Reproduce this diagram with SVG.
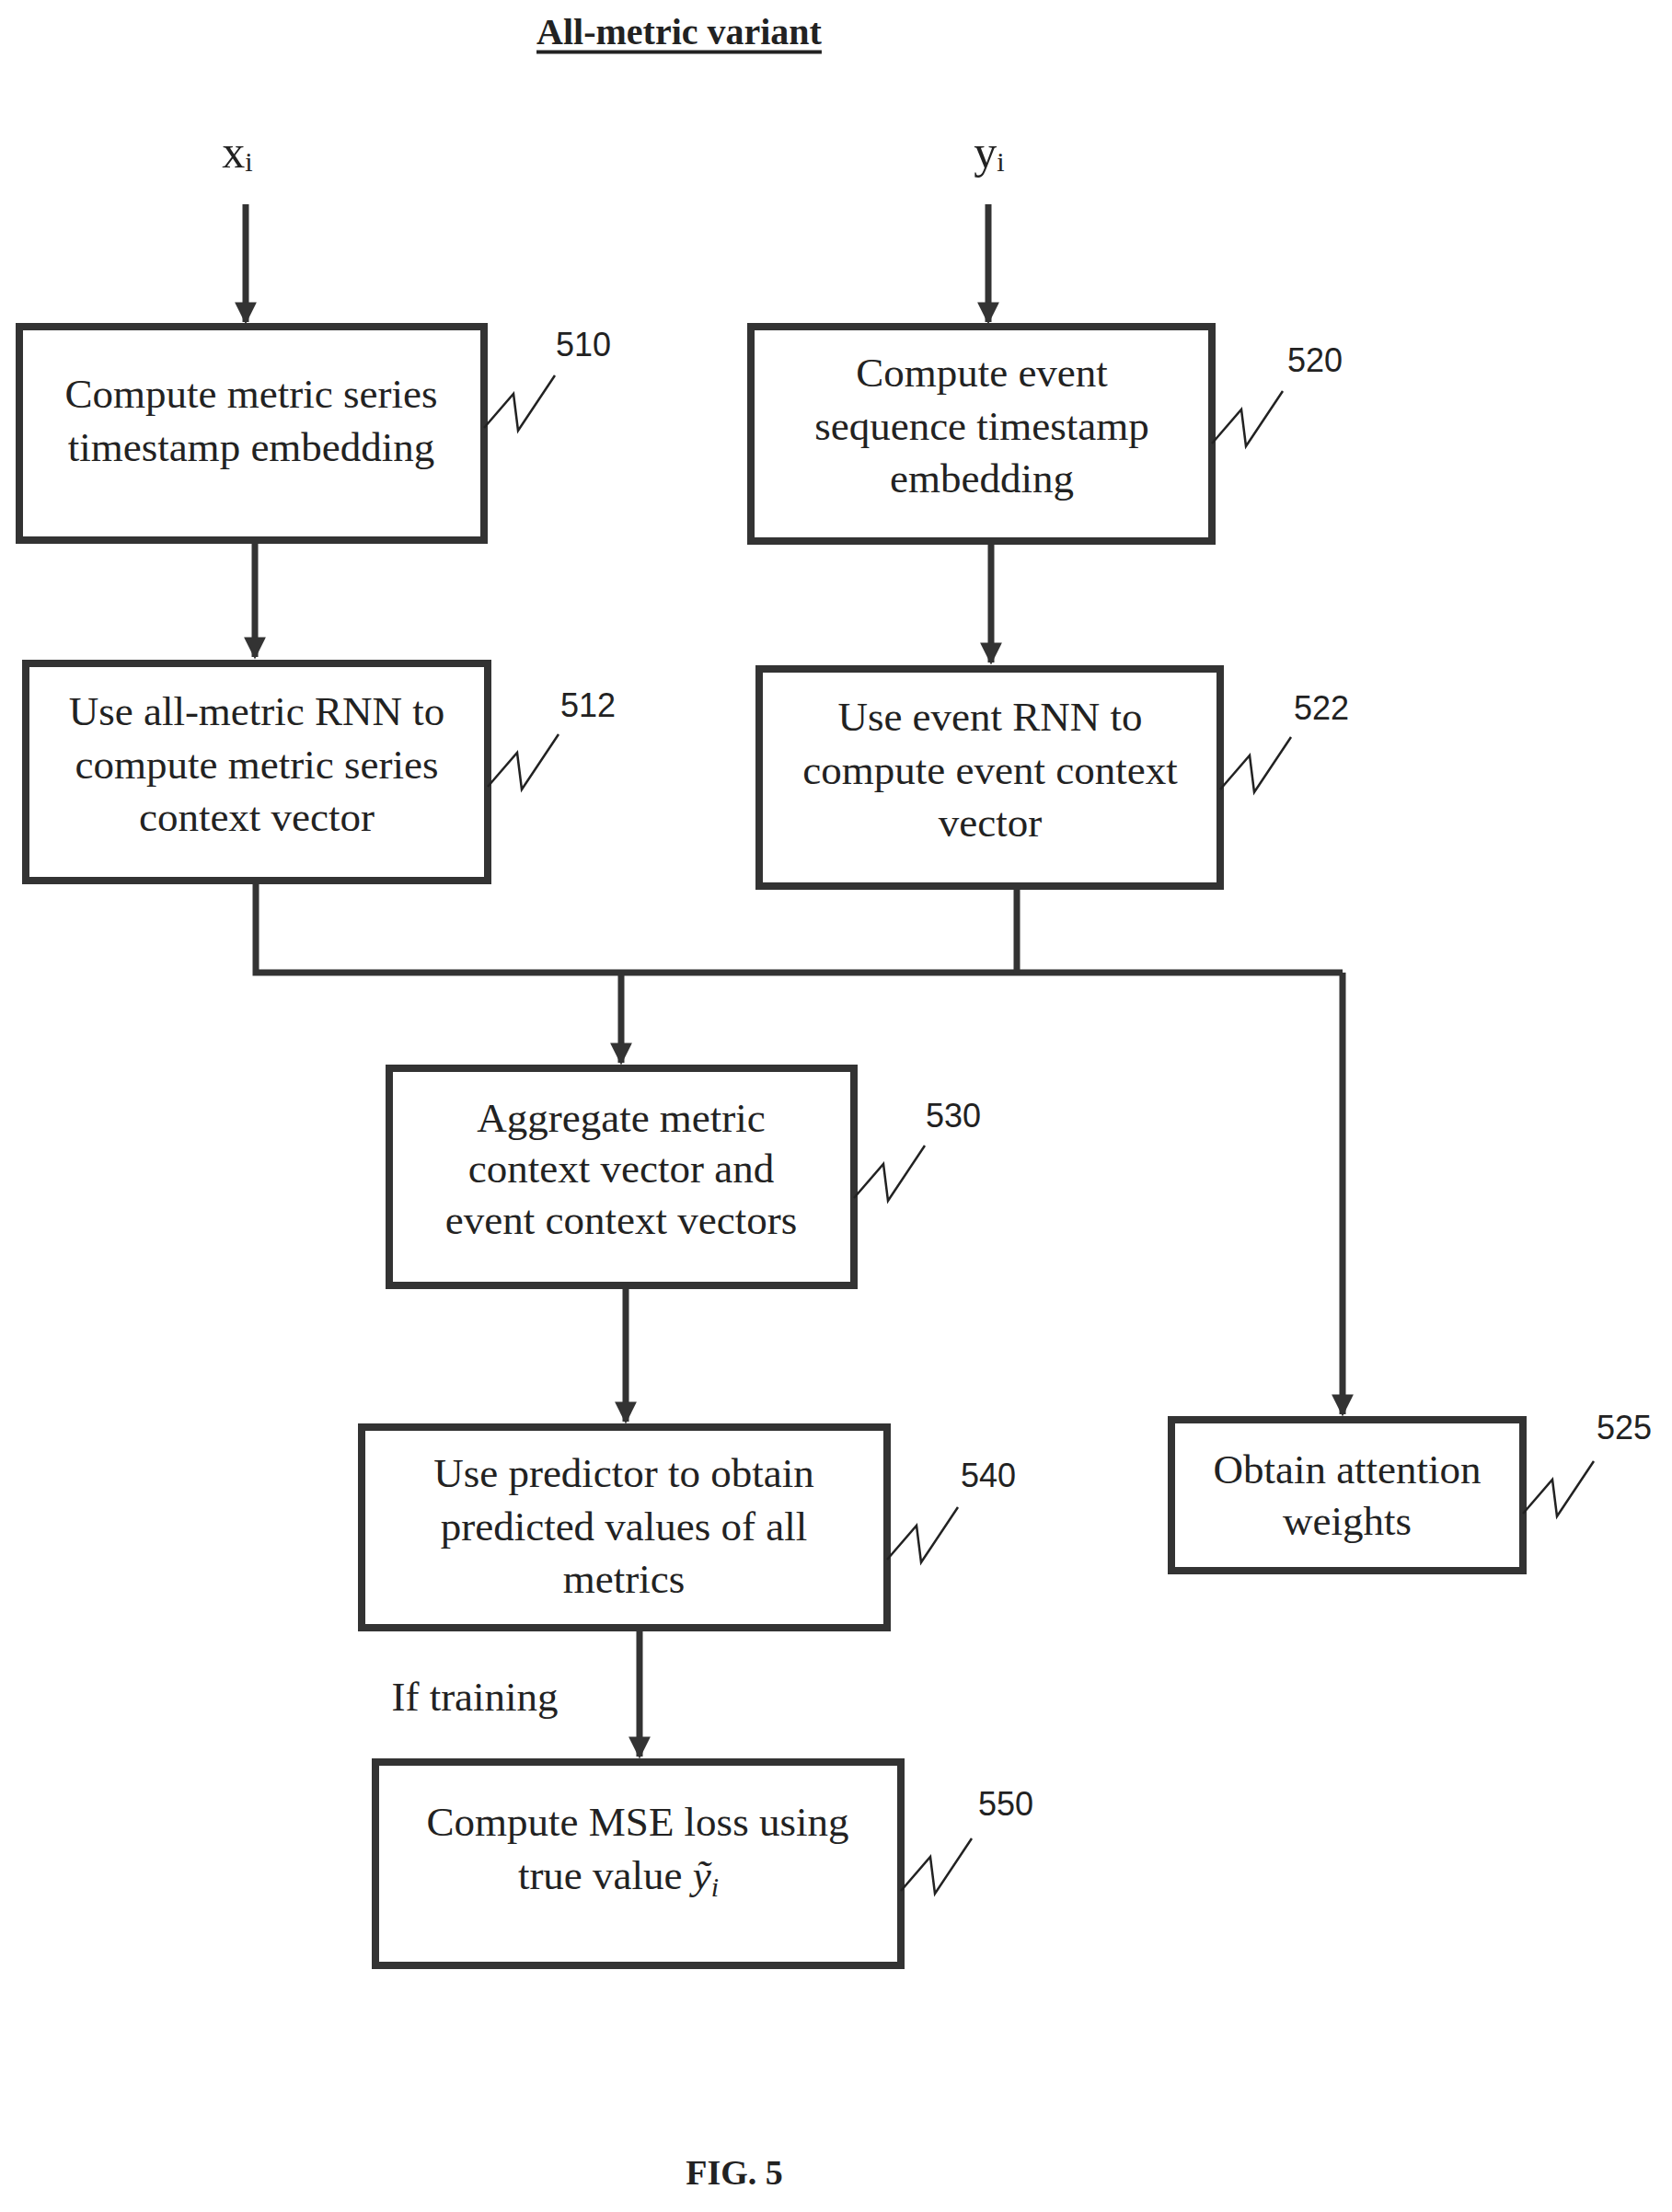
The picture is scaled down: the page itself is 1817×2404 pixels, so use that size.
<svg xmlns="http://www.w3.org/2000/svg" width="1817" height="2404" viewBox="0 0 1817 2404">
<defs>
<marker id="ah" viewBox="0 0 10 10" refX="9" refY="5" markerWidth="3.8" markerHeight="3.4" orient="auto" markerUnits="strokeWidth"><path d="M0,0 L10,5 L0,10 Z" fill="#333"/></marker>
</defs>
<style>
.box{fill:#fff;stroke:#333;stroke-width:8}
.t{font-family:"Liberation Serif",serif;font-size:45px;fill:#222;text-anchor:middle;dominant-baseline:central}
.n{font-family:"Liberation Sans",sans-serif;font-size:36px;fill:#222;text-anchor:middle;dominant-baseline:central}
.c{fill:none;stroke:#333;stroke-width:7}
.sq{fill:none;stroke:#222;stroke-width:2.5}
</style>
<rect width="1817" height="2404" fill="#fff"/>
<text x="738" y="34" style="font-family:'Liberation Serif',serif;font-size:40px;font-weight:bold;text-anchor:middle;dominant-baseline:central;text-decoration:underline" fill="#222">All-metric variant</text>
<text x="258" y="165" class="t" style="font-size:50px">x<tspan font-size="30" dy="10">i</tspan></text>
<text x="1075" y="165" class="t" style="font-size:50px">y<tspan font-size="30" dy="10">i</tspan></text>
<g id="connectors">
<line class="c" x1="267" y1="222" x2="267" y2="350" marker-end="url(#ah)"/>
<line class="c" x1="1074" y1="222" x2="1074" y2="350" marker-end="url(#ah)"/>
<line class="c" x1="277" y1="588" x2="277" y2="714" marker-end="url(#ah)"/>
<line class="c" x1="1077" y1="590" x2="1077" y2="720" marker-end="url(#ah)"/>
<polyline class="c" points="278,957 278,1057 1459,1057"/>
<line class="c" x1="1105" y1="963" x2="1105" y2="1057"/>
<line class="c" x1="675" y1="1057" x2="675" y2="1155" marker-end="url(#ah)"/>
<line class="c" x1="1459" y1="1057" x2="1459" y2="1537" marker-end="url(#ah)"/>
<line class="c" x1="680" y1="1397" x2="680" y2="1545" marker-end="url(#ah)"/>
<line class="c" x1="695" y1="1769" x2="695" y2="1909" marker-end="url(#ah)"/>
</g>
<g id="n510"><rect class="box" x="21" y="355" width="505" height="232"/><text class="t" x="273" y="428">Compute metric series</text><text class="t" x="273" y="486">timestamp embedding</text><text class="n" x="634" y="374">510</text><path class="sq" d="M526,465 L558,428 L563,468 L603,408"/></g>
<g id="n520"><rect class="box" x="816" y="355" width="501" height="233"/><text class="t" x="1067" y="405">Compute event</text><text class="t" x="1067" y="463">sequence timestamp</text><text class="t" x="1067" y="520">embedding</text><text class="n" x="1429" y="391">520</text><path class="sq" d="M1317,482 L1349,445 L1354,485 L1394,425"/></g>
<g id="n512"><rect class="box" x="28" y="721" width="502" height="236"/><text class="t" x="279" y="773">Use all-metric RNN to</text><text class="t" x="279" y="831">compute metric series</text><text class="t" x="279" y="888">context vector</text><text class="n" x="639" y="766">512</text><path class="sq" d="M530,855 L562,818 L567,858 L607,798"/></g>
<g id="n522"><rect class="box" x="825" y="727" width="501" height="236"/><text class="t" x="1076" y="779">Use event RNN to</text><text class="t" x="1076" y="837">compute event context</text><text class="t" x="1076" y="894">vector</text><text class="n" x="1436" y="769">522</text><path class="sq" d="M1326,858 L1358,821 L1363,861 L1403,801"/></g>
<g id="n530"><rect class="box" x="423" y="1161" width="505" height="236"/><text class="t" x="675" y="1215">Aggregate metric</text><text class="t" x="675" y="1270">context vector and</text><text class="t" x="675" y="1326">event context vectors</text><text class="n" x="1036" y="1212">530</text><path class="sq" d="M928,1302 L960,1265 L965,1305 L1005,1245"/></g>
<g id="n540"><rect class="box" x="393" y="1551" width="571" height="218"/><text class="t" x="678" y="1601">Use predictor to obtain</text><text class="t" x="678" y="1659">predicted values of all</text><text class="t" x="678" y="1716">metrics</text><text class="n" x="1074" y="1603">540</text><path class="sq" d="M964,1695 L996,1658 L1001,1698 L1041,1638"/></g>
<g id="n525"><rect class="box" x="1273" y="1543" width="382" height="164"/><text class="t" x="1464" y="1597">Obtain attention</text><text class="t" x="1464" y="1653">weights</text><text class="n" x="1765" y="1551">525</text><path class="sq" d="M1655,1645 L1687,1608 L1692,1648 L1732,1588"/></g>
<text class="t" x="516" y="1844">If training</text>
<g id="n550"><rect class="box" x="408" y="1915" width="571" height="221"/><text class="t" x="693" y="1980">Compute MSE loss using</text><text class="t" x="672" y="2038">true value <tspan font-style="italic">ỹ</tspan><tspan font-style="italic" font-size="30" dy="12">i</tspan></text><text class="n" x="1093" y="1960">550</text><path class="sq" d="M979,2055 L1011,2018 L1016,2058 L1056,1998"/></g>
<text x="798" y="2361" style="font-family:'Liberation Serif',serif;font-size:38px;font-weight:bold;text-anchor:middle;dominant-baseline:central" fill="#222">FIG. 5</text>
</svg>
